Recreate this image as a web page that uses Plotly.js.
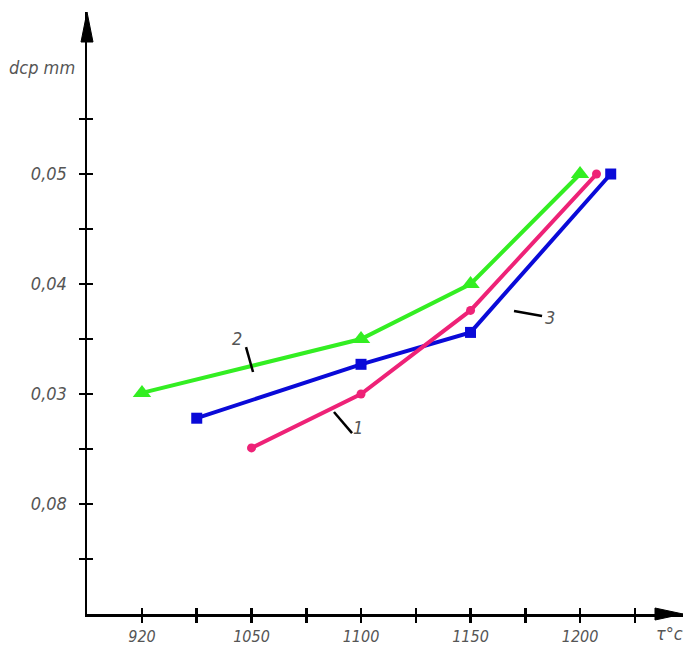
<!DOCTYPE html>
<html><head><meta charset="utf-8">
<script src="https://cdn.plot.ly/plotly-3.0.1.min.js"></script>
<style>html,body{margin:0;padding:0;background:#fff}#c{width:697px;height:647px}</style>
</head><body><div id="c"></div>
<script>
// x positions are slot indices along the (non-linear) temperature axis
const xTickLabels = ['920', '1050', '1100', '1150', '1200'];
const xTickVals = [0, 0.5, 1, 1.5, 2, 2.5, 3, 3.5, 4, 4.5];
const xTickText = ['920', '', '1050', '', '1100', '', '1150', '', '1200', ''];
const yTickVals = [0.015, 0.02, 0.025, 0.03, 0.035, 0.04, 0.045, 0.05, 0.055];
const yTickText = ['', '0,08', '', '0,03', '', '0,04', '', '0,05', ''];

const x1 = [1.0, 2.0, 3.0, 4.15];
const y1 = [0.0251, 0.0300, 0.0376, 0.0500];
const x2 = [0.0, 2.0, 3.0, 4.0];
const y2 = [0.0301, 0.0350, 0.0400, 0.0500];
const x3 = [0.5, 2.0, 3.0, 4.28];
const y3 = [0.0278, 0.0327, 0.0356, 0.0500];

const xRange = [-0.502, 4.94];
const yRange = [0.01, 0.06473];

const labelFont = {family: 'DejaVu Sans Condensed, DejaVu Sans, sans-serif', size: 18, color: '#555', style: 'italic'};
const xLabelFont = Object.assign({}, labelFont, {size: 16});
const black = '#000';

const traces = [
  {x: x2, y: y2, mode: 'lines+markers', line: {color: '#33ee22', width: 4}, marker: {symbol: 'triangle-up', size: 16, color: '#33ee22'}},
  {x: x3, y: y3, mode: 'lines+markers', line: {color: '#0a0ad8', width: 4}, marker: {symbol: 'square', size: 11, color: '#0a0ad8'}},
  {x: x1, y: y1, mode: 'lines+markers', line: {color: '#ee2277', width: 4}, marker: {symbol: 'circle', size: 9, color: '#ee2277'}},
  {x: [], y: [], xaxis: 'x2', yaxis: 'y2', mode: 'markers', hoverinfo: 'skip'}
];

const layout = {
  width: 697, height: 647,
  margin: {l: 87, r: 14, t: 12, b: 33},
  paper_bgcolor: '#fff', plot_bgcolor: '#fff',
  showlegend: false,
  xaxis: {range: xRange, showgrid: false, zeroline: false, showline: true, linecolor: black, linewidth: 2.5,
    tickmode: 'array', tickvals: xTickVals, ticktext: xTickText, ticks: 'outside', ticklen: 6, tickwidth: 2.5, tickcolor: black,
    tickfont: xLabelFont},
  xaxis2: {overlaying: 'x', anchor: 'y2', side: 'bottom', range: xRange, showgrid: false, zeroline: false, showline: false,
    tickmode: 'array', tickvals: xTickVals, ticks: 'inside', ticklen: 6, tickwidth: 2.5, tickcolor: black, showticklabels: false},
  yaxis: {range: yRange, showgrid: false, zeroline: false, showline: true, linecolor: black, linewidth: 2.5,
    tickmode: 'array', tickvals: yTickVals, ticktext: yTickText, ticks: 'outside', ticklen: 6, tickwidth: 2.5, tickcolor: black,
    tickfont: labelFont, ticklabelstandoff: 8},
  yaxis2: {overlaying: 'y', anchor: 'x2', side: 'left', range: yRange, showgrid: false, zeroline: false, showline: false,
    tickmode: 'array', tickvals: yTickVals, ticks: 'inside', ticklen: 6, tickwidth: 2.5, tickcolor: black, showticklabels: false},
  shapes: [
    {type: 'path', xref: 'paper', yref: 'paper', xsizemode: 'pixel', ysizemode: 'pixel', xanchor: 0, yanchor: 1,
     path: 'M0,0 L-6,-30 L6,-30 Z', fillcolor: black, line: {color: black, width: 1}},
    {type: 'path', xref: 'paper', yref: 'paper', xsizemode: 'pixel', ysizemode: 'pixel', xanchor: 1, yanchor: 0,
     path: 'M0,0 L-28,-6 L-28,6 Z', fillcolor: black, line: {color: black, width: 1}},
    {type: 'line', xref: 'x', yref: 'y', x0: 0.950, y0: 0.03427, x1: 1.014, y1: 0.0320, line: {color: black, width: 2.5}},
    {type: 'line', xref: 'x', yref: 'y', x0: 1.753, y0: 0.02836, x1: 1.918, y1: 0.02645, line: {color: black, width: 2.5}},
    {type: 'line', xref: 'x', yref: 'y', x0: 3.397, y0: 0.03755, x1: 3.653, y1: 0.0371, line: {color: black, width: 2.5}}
  ],
  annotations: [
    {text: '2', x: 0.868, y: 0.03509, xref: 'x', yref: 'y', showarrow: false, font: labelFont},
    {text: '1', x: 1.975, y: 0.0270, xref: 'x', yref: 'y', showarrow: false, font: labelFont},
    {text: '3', x: 3.73, y: 0.0370, xref: 'x', yref: 'y', showarrow: false, font: labelFont},
    {text: 'dcp mm', x: -0.0755, y: 0.9086, xref: 'paper', yref: 'paper', xanchor: 'center', yanchor: 'middle', showarrow: false, font: labelFont},
    {text: 'τ°c', x: 0.978, y: -0.0316, xref: 'paper', yref: 'paper', xanchor: 'center', yanchor: 'middle', showarrow: false, font: labelFont}
  ]
};

Plotly.newPlot('c', traces, layout, {displayModeBar: false, staticPlot: true});
</script>
</body></html>
